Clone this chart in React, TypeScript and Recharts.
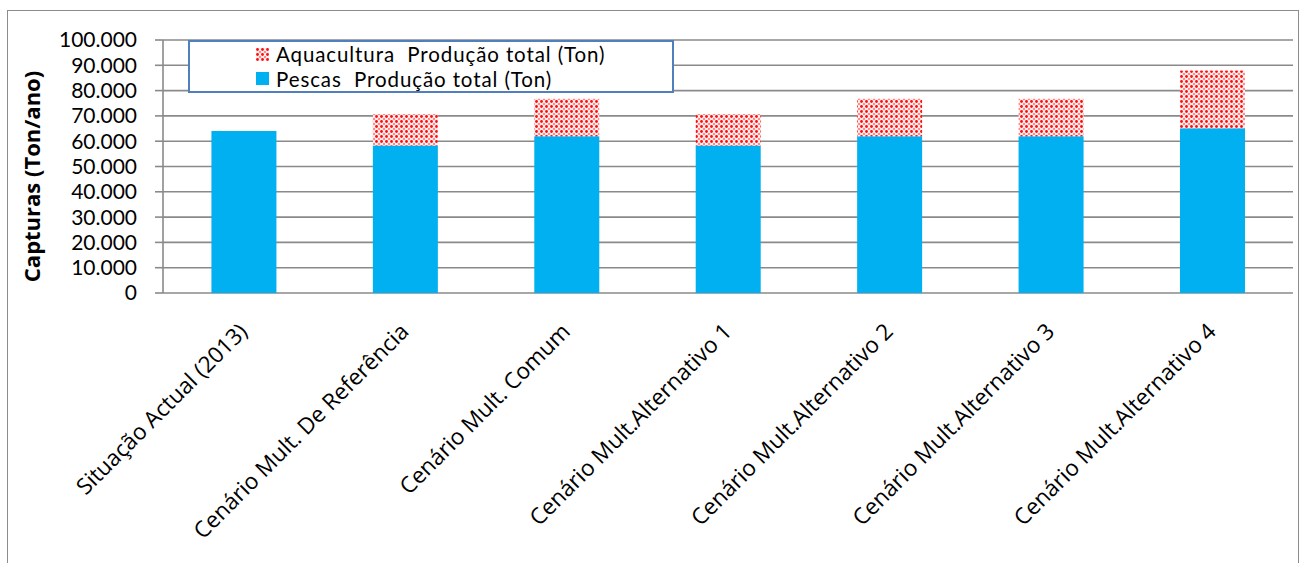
import React from "react";
import {
  BarChart,
  Bar,
  XAxis,
  YAxis,
  CartesianGrid,
  Legend,
  Label,
} from "recharts";

const categories = [
  "Situação Actual (2013)",
  "Cenário Mult. De Referência",
  "Cenário Mult. Comum",
  "Cenário Mult.Alternativo 1",
  "Cenário Mult.Alternativo 2",
  "Cenário Mult.Alternativo 3",
  "Cenário Mult.Alternativo 4",
];
const pescas = [64000, 58300, 62000, 58300, 62000, 62000, 65100];
const aquacultura = [0, 12500, 14800, 12500, 14800, 14800, 22800];
const yTicks = [0, 10000, 20000, 30000, 40000, 50000, 60000, 70000, 80000, 90000, 100000];
const edgeTicks = [0, 1, 2, 3, 4, 5, 6, 7];

const data = categories.map((name, i) => ({
  name,
  pescas: pescas[i],
  aquacultura: aquacultura[i],
}));

const GRID = "#8a8a8a";
const BLUE = "#00b0f0";

const fmt = (v: number) =>
  String(v).replace(/\B(?=(\d{3})+(?!\d))/g, ".");

const CategoryTick = (props: any) => {
  const { x, y, payload } = props;
  return (
    <g transform={`translate(${x + 5},${y}) rotate(-45)`}>
      <text x={0} y={0} textAnchor="end" fontSize={22.5} fill="#000">
        {payload.value}
      </text>
    </g>
  );
};

const Swatch = ({ fill }: { fill: string }) => (
  <svg width={13} height={13} style={{ display: "block" }}>
    <rect width={13} height={13} fill={fill} />
  </svg>
);

// legend rows sit tight, so use Lato (shorter line box) here
const renderLegend = (props: any) => {
  const items = props.payload || [];
  return (
    <div
      style={{
        boxSizing: "border-box",
        width: 486,
        height: 53,
        border: "2px solid #4f7fbd",
        background: "#fff",
        paddingLeft: 66,
        fontFamily: "Lato, sans-serif",
      }}
    >
      {items.map((it: any) => (
        <div
          key={it.value}
          style={{
            display: "flex",
            alignItems: "center",
            height: 24.5,
            fontSize: 20.5,
            lineHeight: "24px",
            letterSpacing: "0.9px",
            color: "#000",
            whiteSpace: "pre",
          }}
        >
          <Swatch fill={it.dataKey === "aquacultura" ? "url(#aquaDots)" : BLUE} />
          <span style={{ marginLeft: 7 }}>{it.value}</span>
        </div>
      ))}
    </div>
  );
};

export default function App() {
  return (
    <div
      style={{
        position: "absolute",
        left: 0,
        top: 0,
        width: 1301,
        height: 563,
        overflow: "hidden",
        background: "#fff",
        fontFamily: "'Open Sans', sans-serif",
      }}
    >
      <div
        style={{
          position: "absolute",
          left: 7,
          top: 10,
          width: 1290,
          height: 600,
          border: "1px solid #8c8c8c",
        }}
      />
      <div style={{ position: "absolute", left: 0, top: 0 }}>
        <BarChart
          width={1301}
          height={563}
          data={data}
          barCategoryGap="30%"
          margin={{ top: 40, right: 8, left: 0, bottom: 0 }}
        >
          <defs>
            <pattern id="aquaDots" width={5} height={5} patternUnits="userSpaceOnUse">
              <rect width={5} height={5} fill="#ffecec" />
              <circle cx={1.5} cy={1.5} r={1.4} fill="#ff0d0d" />
              <circle cx={4} cy={4} r={1} fill="#ff6a6a" />
            </pattern>
          </defs>
          <CartesianGrid vertical={false} stroke={GRID} strokeWidth={1.6} />
          <XAxis
            xAxisId="edge"
            type="number"
            domain={[0, 7]}
            ticks={edgeTicks}
            tick={false}
            tickSize={7}
            height={0}
            stroke={GRID}
            strokeWidth={1.6}
            tickLine={{ stroke: GRID, strokeWidth: 1.6 }}
          />
          <XAxis
            dataKey="name"
            interval={0}
            height={270}
            axisLine={false}
            tickLine={false}
            tickSize={0}
            tickMargin={40}
            tick={<CategoryTick />}
          />
          <YAxis
            width={163}
            domain={[0, 100000]}
            ticks={yTicks}
            tickFormatter={fmt}
            interval={0}
            tickSize={8}
            tickMargin={18}
            stroke={GRID}
            strokeWidth={1.6}
            tick={{ fill: "#000", fontSize: 21, fontFamily: "Lato, sans-serif" }}
          >
            <Label
              content={({ viewBox }: any) => {
                const cy = viewBox.y + viewBox.height / 2 + 10;
                return (
                  <text
                    x={40}
                    y={cy}
                    transform={`rotate(-90, 40, ${cy})`}
                    textAnchor="middle"
                    fontSize={22}
                    fontWeight="bold"
                    fill="#000"
                  >
                    Capturas (Ton/ano)
                  </text>
                );
              }}
            />
          </YAxis>
          <Legend
            layout="vertical"
            align="center"
            verticalAlign="middle"
            content={renderLegend}
            wrapperStyle={{ left: 188, top: 40, width: 486, height: 53 }}
          />
          <Bar
            dataKey="pescas"
            name="Pescas  Produção total (Ton)"
            stackId="a"
            fill={BLUE}
            isAnimationActive={false}
          />
          <Bar
            dataKey="aquacultura"
            name="Aquacultura  Produção total (Ton)"
            stackId="a"
            fill="url(#aquaDots)"
            isAnimationActive={false}
          />
        </BarChart>
      </div>
    </div>
  );
}
